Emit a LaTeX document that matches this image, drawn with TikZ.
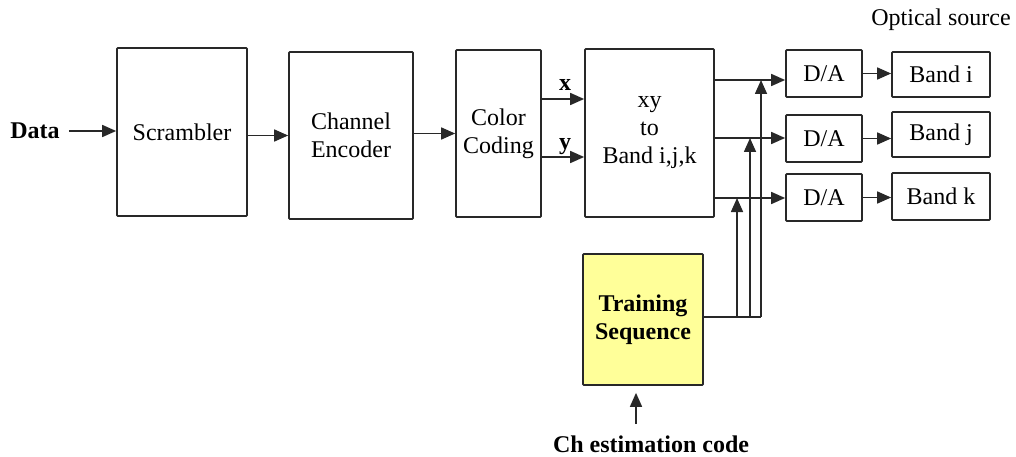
\documentclass[tikz,border=0pt]{standalone}
\usepackage{fontspec}
\setmainfont{Liberation Serif}
\usetikzlibrary{arrows.meta}
\definecolor{ink}{RGB}{40,40,40}
\definecolor{trainfill}{RGB}{255,255,153}
\begin{document}
\begin{tikzpicture}[x=1pt,y=-1pt,
  blk/.style={draw=ink,line width=1.7pt,rounded corners=0.8pt,inner sep=0pt,align=center,
    font=\fontsize{24}{28}\selectfont},
  lbl/.style={inner sep=0pt,font=\fontsize{24}{28}\selectfont},
  blbl/.style={inner sep=0pt,font=\fontsize{24}{28}\selectfont\bfseries},
  arr/.style={draw=ink,line width=1.6pt,-{Triangle[length=14pt,width=12pt]}},
  wire/.style={draw=ink,line width=1.6pt}]
\useasboundingbox (0,0) rectangle (1016,457);

% processing chain
\node[blk,minimum width=130pt,minimum height=168pt] (scr) at (182,132) {Scrambler};
\node[blk,minimum width=124pt,minimum height=167pt] (enc) at (351,135.5) {Channel\\Encoder};
\node[blk,minimum width=85pt,minimum height=167pt] (col) at (498.5,133.5) {Color\\Coding};
\node[blk,minimum width=129pt,minimum height=168pt] (xy) at (649.5,133) {xy\\to\\Band i,j,k};

% converters and bands
\node[blk,minimum width=76pt,minimum height=47pt] (da1) at (824,73.5) {D/A};
\node[blk,minimum width=76pt,minimum height=47pt] (da2) at (824,138.5) {D/A};
\node[blk,minimum width=76pt,minimum height=47pt] (da3) at (824,197.5) {D/A};
\node[blk,minimum width=98pt,minimum height=45pt] (b1) at (941,74.5) {Band i};
\node[blk,minimum width=98pt,minimum height=45pt] (b2) at (941,134.5) {Band j};
\node[blk,minimum width=98pt,minimum height=47pt] (b3) at (941,196.5) {Band k};

% training block
\node[blk,fill=trainfill,minimum width=120pt,minimum height=131pt,font=\fontsize{24}{28}\selectfont\bfseries] (train) at (643,319.5) {Training\\Sequence};

% free labels
\node[blbl] (data) at (35,131) {Data};
\node[lbl] (opt) at (941,20) {Optical source};
\node[blbl] (ch) at (651,444) {Ch estimation code};
\node[blbl] (xl) at (565,85) {x};
\node[blbl] (yl) at (565,147) {y};

% main flow
\draw[arr] ([xshift=9pt]data.east) -- (scr.west |- data.east);
\draw[arr] (enc.west -| scr.east) -- (enc.west);
\draw[arr] (col.west -| enc.east) -- (col.west);
\draw[arr] ([yshift=34.5pt]col.east) -- ([yshift=34.5pt]col.east -| xy.west);
\draw[arr] ([yshift=-23.5pt]col.east) -- ([yshift=-23.5pt]col.east -| xy.west);

% xy outputs to converters
\coordinate (o1) at ([yshift=53pt]xy.east);
\coordinate (o2) at ([yshift=-5pt]xy.east);
\coordinate (o3) at ([yshift=-65pt]xy.east);
\draw[arr] (o1) -- (o1 -| da1.west);
\draw[arr] (o2) -- (o2 -| da2.west);
\draw[arr] (o3) -- (o3 -| da3.west);

% converters to bands
\draw[arr] (da1.east) -- (da1.east -| b1.west);
\draw[arr] (da2.east) -- (da2.east -| b2.west);
\draw[arr] (da3.east) -- (da3.east -| b3.west);

% training sequence bus
\coordinate (bus) at ([yshift=2.5pt]train.east);
\coordinate (v1) at (761,0);
\coordinate (v2) at (750,0);
\coordinate (v3) at (737,0);
\draw[wire] (bus) -- (bus -| v1);
\draw[arr] (bus -| v1) -- (o1 -| v1);
\draw[arr] (bus -| v2) -- (o2 -| v2);
\draw[arr] (bus -| v3) -- (o3 -| v3);

% channel estimation input
\draw[arr] ([xshift=-7pt]train.south |- 0,424) -- ([xshift=-7pt,yshift=-7pt]train.south);
\end{tikzpicture}
\end{document}
